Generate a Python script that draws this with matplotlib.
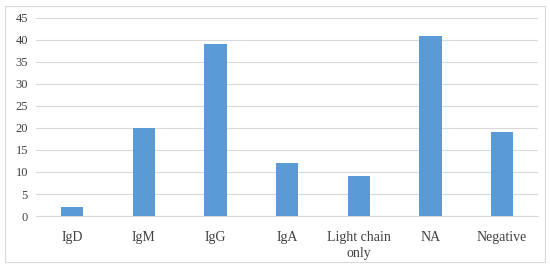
import matplotlib
matplotlib.use("Agg")
import matplotlib.pyplot as plt
from matplotlib.patches import Rectangle

categories = ["IgD", "IgM", "IgG", "IgA", "Light chain\nonly", "NA", "Negative"]
values = [2, 20, 39, 12, 9, 41, 19]
yticks = [0, 5, 10, 15, 20, 25, 30, 35, 40, 45]

plt.rcParams['font.family'] = ['Liberation Serif', 'DejaVu Serif']

fig = plt.figure(figsize=(5.5, 2.68), dpi=100)
fig.patches.append(Rectangle((0.009, 0.022), 0.982, 0.956, transform=fig.transFigure,
                             fill=False, edgecolor="#d9d9d9", linewidth=0.8))
ax = fig.add_axes([0.066, 0.194, 0.912, 0.739])
x = range(len(categories))
ax.bar(x, values, width=0.31, color="#5b9bd5", zorder=3)
ax.set_xlim(-0.5, len(categories) - 0.5)
ax.set_ylim(0, 45)
ax.set_yticks(yticks)
ax.set_xticks(list(x))
ax.set_xticklabels(categories, fontsize=10, color="#404040", linespacing=1.3)
ax.tick_params(axis='y', labelsize=9, colors="#404040", length=0, pad=6)
ax.tick_params(axis='x', length=0, pad=11)
ax.grid(axis='y', color="#d9d9d9", linewidth=0.8, zorder=0)
for s in ["top", "right", "left"]:
    ax.spines[s].set_visible(False)
ax.spines["bottom"].set_color("#d9d9d9")
ax.spines["bottom"].set_linewidth(0.8)
fig.savefig("out.png", dpi=100)
